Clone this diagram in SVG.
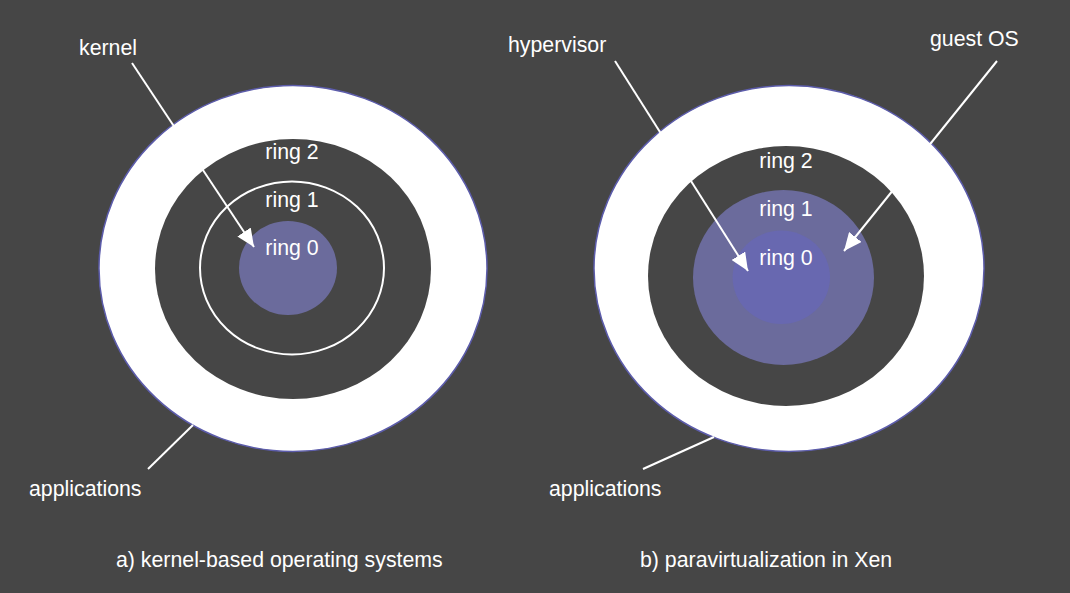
<svg xmlns="http://www.w3.org/2000/svg" width="1070" height="593" viewBox="0 0 1070 593">
<style>
text{font-family:"Liberation Sans",Arial,sans-serif;font-size:21.3px;fill:#ffffff}
.outer{fill:#ffffff;stroke:#5c5cab;stroke-width:1.5}
.dark{fill:#464646}
.r1line{fill:none;stroke:#ffffff;stroke-width:2}
.r0a{fill:#6b6b9c}
.r1b{fill:#6b6b9c}
.r0b{fill:#6868b0}
.conn{stroke:#ffffff;stroke-width:2;fill:none}
</style>
<defs>
<marker id="arr" markerUnits="userSpaceOnUse" markerWidth="20" markerHeight="16" refX="18" refY="8" orient="auto">
<path d="M0,0 L18,8 L0,16 Z" fill="#ffffff"/>
</marker>
</defs>
<rect width="1070" height="593" fill="#464646"/>
<g id="left-diagram">
<ellipse id="left-applications" class="outer" cx="293" cy="268.5" rx="194" ry="183"/>
<ellipse id="left-ring2" class="dark" cx="293" cy="269" rx="138" ry="130"/>
<ellipse id="left-ring1" class="r1line" cx="292" cy="268" rx="92" ry="86.5"/>
<ellipse id="left-ring0" class="r0a" cx="288" cy="268" rx="49" ry="47"/>
</g>
<g id="right-diagram">
<ellipse id="right-applications" class="outer" cx="789" cy="268.5" rx="195" ry="183"/>
<ellipse id="right-ring2" class="dark" cx="786" cy="276" rx="138" ry="130"/>
<ellipse id="right-ring1" class="r1b" cx="783.5" cy="277.5" rx="90.5" ry="87.5"/>
<ellipse id="right-ring0" class="r0b" cx="781.3" cy="277.3" rx="48.7" ry="46.7"/>
</g>
<g id="connectors">
<line class="conn" x1="132" y1="63" x2="254" y2="247" marker-end="url(#arr)"/>
<line class="conn" x1="615" y1="61" x2="748" y2="271" marker-end="url(#arr)"/>
<line class="conn" x1="997" y1="61" x2="844" y2="251" marker-end="url(#arr)"/>
<line class="conn" x1="148" y1="469" x2="193" y2="425"/>
<line class="conn" x1="643" y1="469" x2="714" y2="437"/>
</g>
<g id="labels">
<text x="79" y="55">kernel</text>
<text x="508" y="52">hypervisor</text>
<text x="930" y="46">guest OS</text>
<text x="29" y="496">applications</text>
<text x="549" y="496">applications</text>
<text x="292" y="159" text-anchor="middle">ring 2</text>
<text x="292" y="207" text-anchor="middle">ring 1</text>
<text x="292" y="255" text-anchor="middle">ring 0</text>
<text x="786" y="168" text-anchor="middle">ring 2</text>
<text x="786" y="216" text-anchor="middle">ring 1</text>
<text x="786" y="265" text-anchor="middle">ring 0</text>
<text x="116" y="567">a) kernel-based operating systems</text>
<text x="640" y="567">b) paravirtualization in Xen</text>
</g>
</svg>
